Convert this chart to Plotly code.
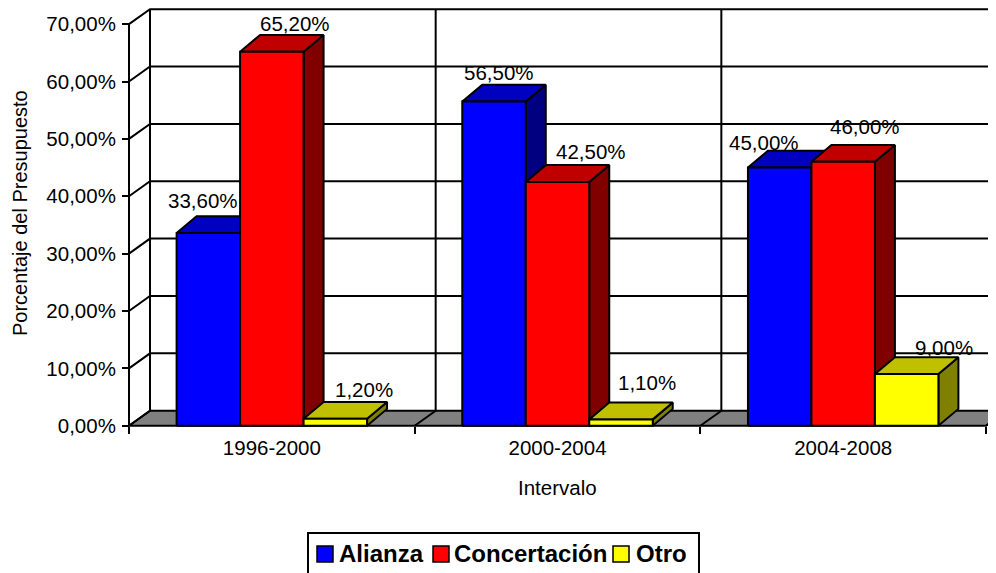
import plotly.graph_objects as go

# ---------------- data ----------------
categories = ["1996-2000", "2000-2004", "2004-2008"]
series_names = ["Alianza", "Concertación", "Otro"]
alianza = [33.6, 56.5, 45.0]
concertacion = [65.2, 42.5, 46.0]
otro = [1.2, 1.1, 9.0]
y_tick_values = [0, 10, 20, 30, 40, 50, 60, 70]
y_tick_labels = ["0,00%", "10,00%", "20,00%", "30,00%", "40,00%", "50,00%", "60,00%", "70,00%"]
x_title = "Intervalo"
y_title = "Porcentaje del Presupuesto"

values = [alianza, concertacion, otro]

# ---------------- style / layout ----------------
OFF = 8                      # page body margin of the html page
W, H = 996 - OFF, 573 - OFF
FONT = "Liberation Sans, Arial, sans-serif"
FS = 20.5
front_colors = ["#0000FF", "#FF0000", "#FFFF00"]
top_colors = ["#0000C0", "#C00000", "#C0C000"]
side_colors = ["#000080", "#800000", "#808000"]
floor_color = "#808080"
LW = 2

# geometry expressed in window pixels
X0PX, XSCALE = 129.0, 285.67     # px of x=-0.5, px per category unit
Y0PX, YSCALE = 425.7, 5.736      # px of y=0, px per percent
PLOT_LEFT, PLOT_TOP, PLOT_BOTTOM = 123, 8, 431
ML = PLOT_LEFT - OFF
MT = PLOT_TOP - OFF
MB = H - (PLOT_BOTTOM - OFF)
MR = 0
plot_w = W - ML - MR
plot_h = H - MT - MB
xmin = -0.5 - (X0PX - PLOT_LEFT) / XSCALE
xmax = -0.5 + (996 - X0PX) / XSCALE
ymin = -(PLOT_BOTTOM - Y0PX) / YSCALE
ymax = (Y0PX - PLOT_TOP) / YSCALE

DX = 21 / XSCALE        # wall depth
DY = 15 / YSCALE
BDX = 20 / XSCALE       # bar depth
BDY = 16.8 / YSCALE
BAR_W = 2 / 9
XL, XR = -0.5, len(categories) - 0.5
YTOP = y_tick_values[-1]


def px_x(px):
    return (px - OFF - ML) / plot_w


def px_y(py):
    return ((H - MB) - (py - OFF)) / plot_h


fig = go.Figure()


def poly(xs, ys, fill=None, width=LW):
    fig.add_trace(go.Scatter(
        x=xs, y=ys, mode="lines",
        line=dict(color="black", width=width),
        fill="toself" if fill else None,
        fillcolor=fill,
        hoverinfo="skip", showlegend=False,
    ))


# left wall and back wall (white)
poly([XL, XL + DX, XL + DX, XL, XL], [0, DY, YTOP + DY, YTOP, 0], fill="white", width=0)
poly([XL + DX, xmax + 1, xmax + 1, XL + DX, XL + DX], [DY, DY, YTOP + DY, YTOP + DY, DY], fill="white", width=0)

# horizontal gridlines (left wall diagonal + back wall)
for v in y_tick_values[1:]:
    poly([XL, XL + DX, xmax + 1], [v, v + DY, v + DY])

# floor
poly([XL, XR, XR + DX, XL + DX, XL], [0, 0, DY, DY, 0], fill=floor_color)
poly([XR + DX, xmax + 1], [DY, DY])

# back wall left edge + category dividers
poly([XL, XL + DX, XL + DX], [0, DY, YTOP + DY])
for k in range(1, len(categories) + 1):
    b = XL + k
    poly([b, b + DX, b + DX], [0, DY, YTOP + DY])

# front value axis line
poly([XL, XL], [0, YTOP])

# 3-D bars
for i in range(len(categories)):
    for s in range(len(series_names)):
        h = values[s][i]
        x0 = i - 1 / 3 + s * BAR_W
        x1 = x0 + BAR_W
        poly([x1, x1 + BDX, x1 + BDX, x1, x1], [0, BDY, h + BDY, h, 0], fill=side_colors[s])
        poly([x0, x1, x1 + BDX, x0 + BDX, x0], [h, h, h + BDY, h + BDY, h], fill=top_colors[s])
        poly([x0, x1, x1, x0, x0], [0, 0, h, h, 0], fill=front_colors[s])

# data labels
label_shift = [
    [(-5, 32), (5, 29), (-16, 25)],
    [(23, 28), (33, 30), (22, 35)],
    [(29, 29), (26, 37), (37, 27)],
]
annotations = []
for s in range(len(series_names)):
    for i in range(len(categories)):
        h = values[s][i]
        xc = i - 1 / 3 + s * BAR_W + BAR_W / 2
        txt = f"{h:.2f}".replace(".", ",") + "%"
        dxs, dys = label_shift[s][i]
        annotations.append(dict(
            x=xc, y=h, xref="x", yref="y", text=txt, showarrow=False,
            xanchor="center", yanchor="middle", xshift=dxs, yshift=dys,
            font=dict(family=FONT, size=FS, color="black"),
        ))

# axis titles
annotations.append(dict(
    x=px_x(20), y=px_y(213), xref="paper", yref="paper", text=y_title,
    textangle=-90, showarrow=False, xanchor="center", yanchor="middle",
    font=dict(family=FONT, size=20, color="black"),
))
annotations.append(dict(
    x=px_x(557), y=px_y(487), xref="paper", yref="paper", text=x_title,
    showarrow=False, xanchor="center", yanchor="middle",
    font=dict(family=FONT, size=FS, color="black"),
))

# legend box
shapes = [dict(
    type="rect", xref="paper", yref="paper",
    x0=px_x(308), x1=px_x(699), y0=px_y(590), y1=px_y(533),
    line=dict(color="black", width=2), fillcolor="white", layer="above",
)]
leg_sq = [317, 433, 613]
leg_tx = [339, 454, 636]
for s in range(len(series_names)):
    shapes.append(dict(
        type="rect", xref="paper", yref="paper",
        x0=px_x(leg_sq[s]), x1=px_x(leg_sq[s] + 16), y0=px_y(562), y1=px_y(546),
        line=dict(color="black", width=1.5), fillcolor=front_colors[s], layer="above",
    ))
    annotations.append(dict(
        x=px_x(leg_tx[s] - 2), y=px_y(553), xref="paper", yref="paper",
        text=f"<b>{series_names[s]}</b>", showarrow=False,
        xanchor="left", yanchor="middle",
        font=dict(family=FONT, size=24, color="black"),
    ))

fig.update_layout(
    width=W, height=H,
    margin=dict(l=ML, r=MR, t=MT, b=MB, autoexpand=False),
    paper_bgcolor="white", plot_bgcolor="white",
    showlegend=False,
    annotations=annotations,
    shapes=shapes,
    xaxis=dict(
        range=[xmin, xmax], showgrid=False, zeroline=False, showline=False,
        tickmode="array", tickvals=list(range(len(categories))), ticktext=categories,
        ticks="", tickfont=dict(family=FONT, size=FS, color="black"),
        anchor="free", position=(PLOT_BOTTOM - Y0PX) / plot_h,
        minor=dict(tickmode="array", tickvals=[XL + k for k in range(len(categories) + 1)],
                   ticks="outside", ticklen=7, tickwidth=2, tickcolor="black", showgrid=False),
        ticklabelstandoff=8,
    ),
    yaxis=dict(
        range=[ymin, ymax], showgrid=False, zeroline=False, showline=False,
        tickmode="array", tickvals=y_tick_values, ticktext=y_tick_labels,
        ticks="outside", ticklen=7, tickwidth=2, tickcolor="black",
        tickfont=dict(family=FONT, size=FS, color="black"),
        anchor="free", position=(X0PX - PLOT_LEFT) / plot_w,
        ticklabelstandoff=2,
    ),
)

fig.write_html("out.html")
